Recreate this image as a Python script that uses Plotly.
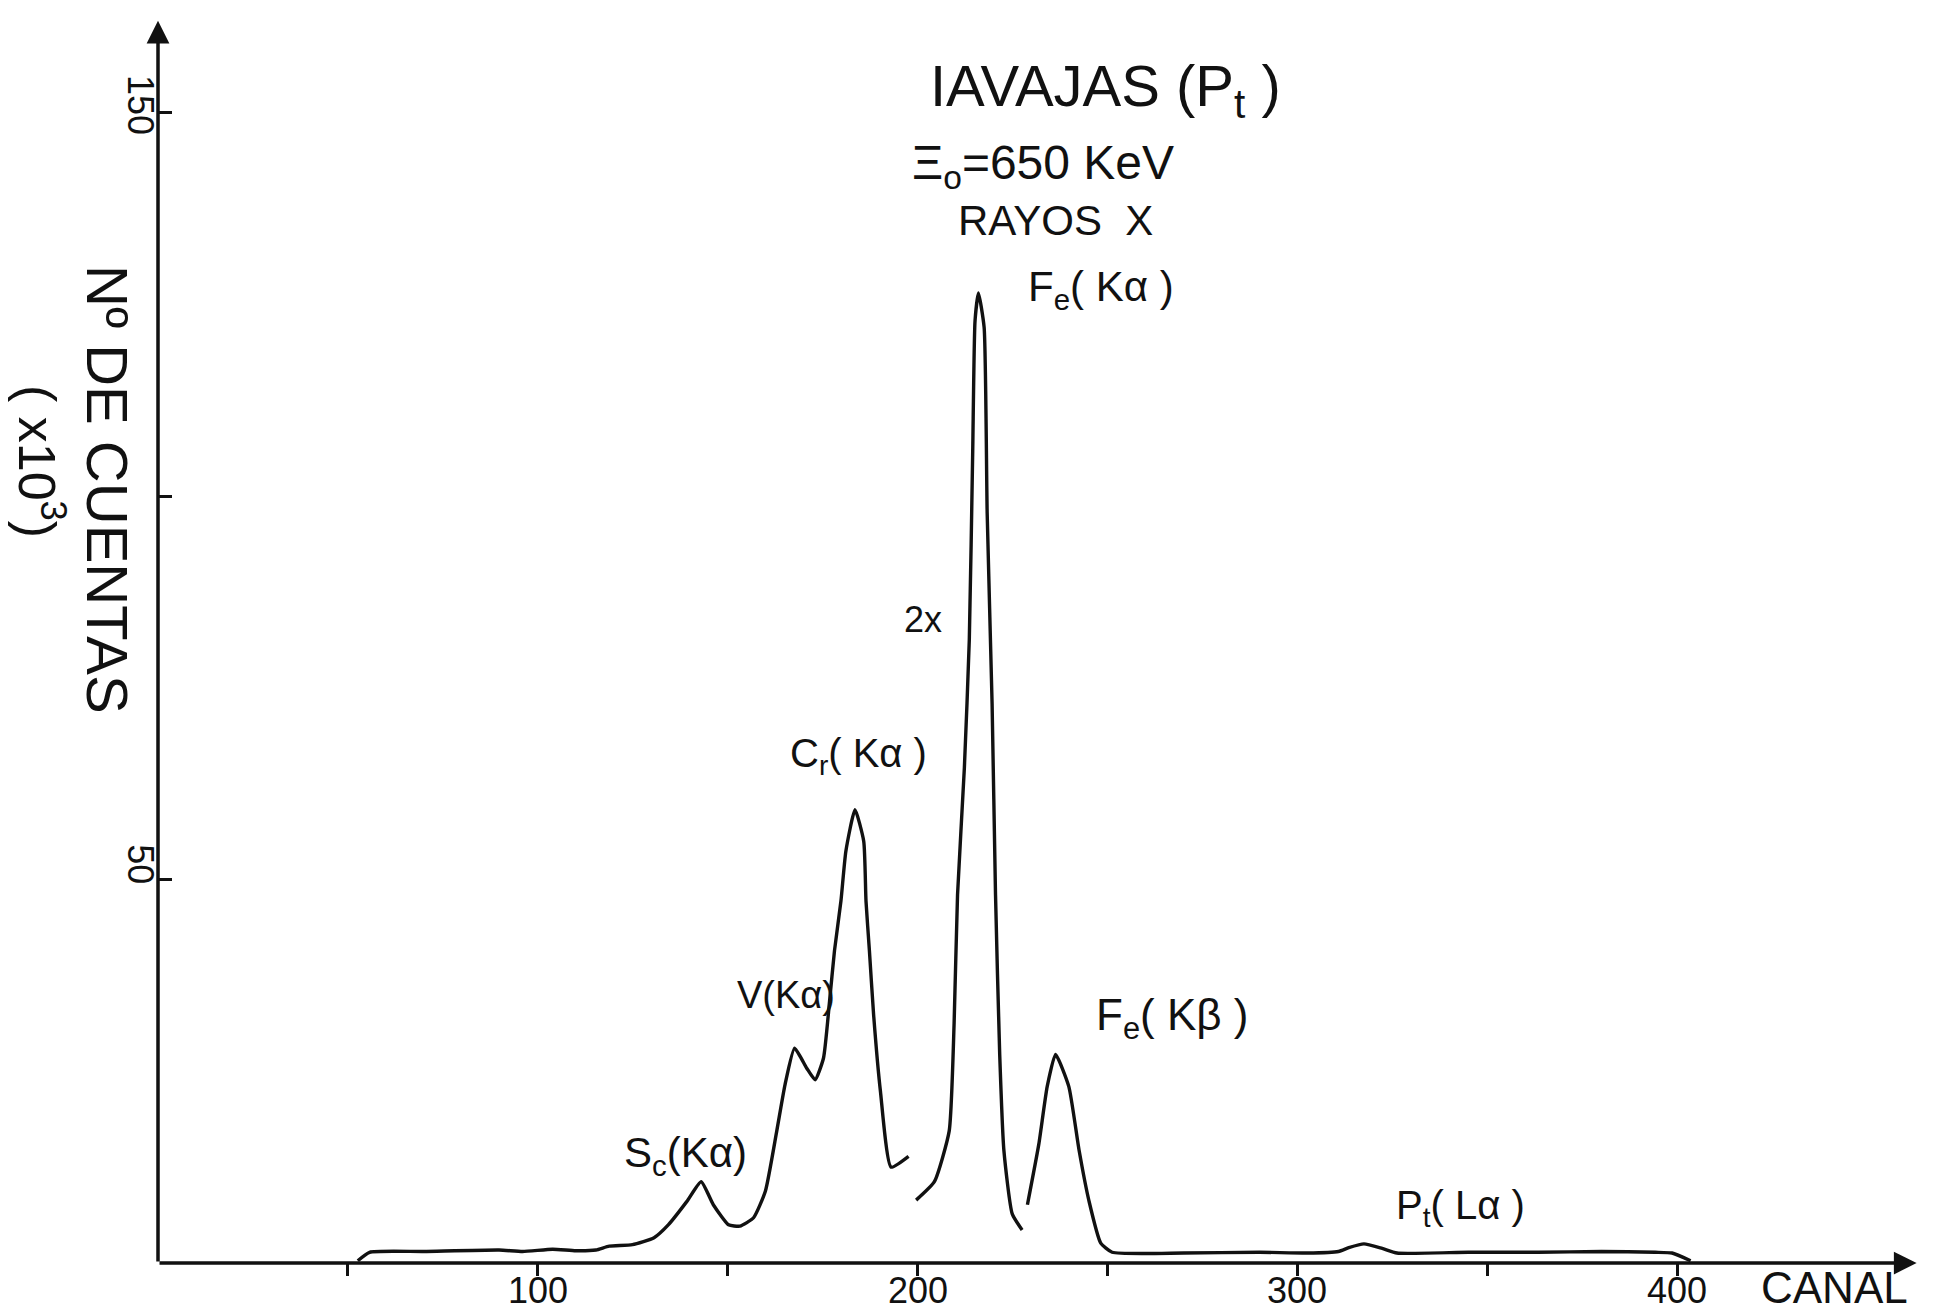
import plotly.graph_objects as go

# ---------------- data ----------------
# segment 1: baseline, Sc(Ka), V(Ka), Cr(Ka)
seg1_canal = [52.6, 55.7, 70, 89.8, 96, 103.9, 110, 115.3, 118.8, 124.9, 130.6, 134.4,
              139.2, 143.0, 146.2, 150.2, 153.2, 156.8, 159.9, 162.9, 165.1, 167.6,
              170.8, 173.0, 175.2, 176.8, 178.1, 179.8, 181.1, 183.5, 185.8, 186.4,
              187.3, 188.4, 190.2, 193.0, 197.6]
seg1_cuentas = [0.3, 1.4, 1.5, 1.7, 1.5, 1.8, 1.6, 1.7, 2.2, 2.4, 3.3, 5.0,
                8.0, 10.6, 7.6, 5.0, 4.8, 5.9, 9.35, 17.2, 23.3, 28.0,
                25.4, 23.9, 26.7, 34.1, 40.7, 47.2, 53.7, 59.1, 55.0, 47.2,
                40.7, 32.4, 22.4, 12.5, 13.9]
# segment 2: Fe(Ka) (drawn at 2x)
seg2_canal = [199.6, 204.4, 208.3, 209.6, 210.5, 212.3, 213.6, 214.5, 215.1, 216.0,
              217.5, 218.3, 219.6, 220.5, 221.6, 222.7, 224.9, 227.5]
seg2_cuentas = [8.2, 10.6, 17.2, 31.3, 48.0, 64.6, 81.3, 106, 122.8, 126.5,
                122, 97.8, 72.9, 48, 27.2, 14.7, 6.4, 4.3]
# segment 3: Fe(Kb), baseline, Pt(La)
seg3_canal = [228.9, 231.9, 234.1, 236.3, 239.8, 242.5, 245.1, 248.2, 251.2, 270, 290,
              302.6, 310.8, 313.5, 317.5, 322.3, 326.2, 345, 363.4, 380, 394.2,
              398.6, 403.5]
seg3_cuentas = [7.6, 15.5, 23, 27.2, 23, 14.7, 8.1, 2.6, 1.4, 1.3, 1.4,
                1.3, 1.5, 2.0, 2.5, 1.9, 1.3, 1.4, 1.4, 1.5, 1.4,
                1.3, 0.3]

x_tickvals = [50, 100, 150, 200, 250, 300, 350, 400]
x_labelvals = [100, 200, 300, 400]
x_labeltext = ["100", "200", "300", "400"]
y_tickvals = [50, 100, 150]
y_labelvals = [50, 150]
y_labeltext = ["50", "150"]

peak_labels = ["F<sub>e</sub>( Kα )", "2x", "C<sub>r</sub>( Kα )", "V(Kα)",
               "F<sub>e</sub>( Kβ )", "S<sub>c</sub>(Kα)", "P<sub>t</sub>( Lα )"]
peak_label_canal = [248.4, 201.4, 184.5, 165.3, 267.0, 138.9, 342.8]
peak_label_cuentas = [127, 83.9, 66.1, 34.9, 31.9, 14.0, 7.2]

# ---------------- layout geometry ----------------
W, H = 1939, 1313
L, R, T, B = 150, 19, 5, 58
XMAX, YMAX = 466, 163

FONT = "Liberation Sans, DejaVu Sans, Arial, sans-serif"
INK = "#111111"

fig = go.Figure()
for cx, cy in [(seg1_canal, seg1_cuentas), (seg2_canal, seg2_cuentas), (seg3_canal, seg3_cuentas)]:
    fig.add_trace(go.Scatter(x=cx, y=cy, mode="lines",
                             line=dict(color=INK, width=3.4, shape="spline", smoothing=0.5),
                             showlegend=False, hoverinfo="skip", cliponaxis=False))

def paper(X, Y):
    return (X - L) / (W - L - R), 1 - (Y - T) / (H - T - B)

ann = []
# axes drawn as arrows
ann.append(dict(x=463, y=0, ax=0, ay=0, xref="x", yref="y", axref="x", ayref="y",
                text="", showarrow=True, arrowhead=2, arrowsize=1.3, arrowwidth=3.5, arrowcolor=INK))
ann.append(dict(x=0, y=162, ax=0, ay=0, xref="x", yref="y", axref="x", ayref="y",
                text="", showarrow=True, arrowhead=2, arrowsize=1.3, arrowwidth=3.5, arrowcolor=INK))

# x tick labels
_, ylab = paper(0, 1282)
for v, t in zip(x_labelvals, x_labeltext):
    ann.append(dict(x=v, y=ylab, xref="x", yref="paper", text=t, showarrow=False, borderpad=0,
                    font=dict(family=FONT, size=36, color=INK), xanchor="center", yanchor="middle"))
# y tick labels (rotated)
xlab, _ = paper(133, 0)
for v, t, off in zip(y_labelvals, y_labeltext, [2.0, 1.0]):
    ann.append(dict(x=xlab, y=v + off, xref="paper", yref="y", text=t, showarrow=False, textangle=90,
                    font=dict(family=FONT, size=36, color=INK), xanchor="center", yanchor="middle"))

# peak labels
sizes = [42, 36, 40, 38, 44, 42, 40]
for t, cx, cy, s in zip(peak_labels, peak_label_canal, peak_label_cuentas, sizes):
    ann.append(dict(x=cx, y=cy, xref="x", yref="y", text=t, showarrow=False,
                    font=dict(family=FONT, size=s, color=INK), xanchor="center", yanchor="middle"))

# title block
ann.append(dict(x=249.5, y=153, xref="x", yref="y", text="IAVAJAS (P<sub>t</sub> )", showarrow=False,
                font=dict(family=FONT, size=58, color=INK), xanchor="center", yanchor="middle"))
ann.append(dict(x=233.0, y=143, xref="x", yref="y", text="Ξ<sub>o</sub>=650 KeV", showarrow=False,
                font=dict(family=FONT, size=48, color=INK), xanchor="center", yanchor="middle"))
ann.append(dict(x=236.4, y=136, xref="x", yref="y", text="RAYOS  X", showarrow=False,
                font=dict(family=FONT, size=42, color=INK), xanchor="center", yanchor="middle"))

# axis titles
px, py = paper(1826, 1279)
ann.append(dict(x=px, y=py, xref="paper", yref="paper", text="CANAL", showarrow=False, borderpad=0,
                font=dict(family=FONT, size=44, color=INK), xanchor="center", yanchor="middle"))
px, py = paper(100, 481)
ann.append(dict(x=px, y=py, xref="paper", yref="paper", text="Nº DE CUENTAS", showarrow=False,
                textangle=90, font=dict(family=FONT, size=58, color=INK),
                xanchor="center", yanchor="middle"))
px, py = paper(33, 453)
ann.append(dict(x=px, y=py, xref="paper", yref="paper", text="( x10<sup>3</sup>)", showarrow=False,
                textangle=90, font=dict(family=FONT, size=52, color=INK),
                xanchor="center", yanchor="middle"))

fig.update_layout(
    width=W, height=H,
    margin=dict(l=L, r=R, t=T, b=B, autoexpand=False),
    paper_bgcolor="white", plot_bgcolor="white",
    annotations=ann,
    xaxis=dict(range=[0, XMAX], showgrid=False, zeroline=False, showline=False,
               tickmode="array", tickvals=x_tickvals, showticklabels=False,
               ticks="outside", ticklen=12, tickwidth=3, tickcolor=INK, automargin=False),
    yaxis=dict(range=[0, YMAX], showgrid=False, zeroline=False, showline=False,
               tickmode="array", tickvals=y_tickvals, showticklabels=False,
               ticks="inside", ticklen=14, tickwidth=3, tickcolor=INK, automargin=False),
)

fig.write_html("out.html")
